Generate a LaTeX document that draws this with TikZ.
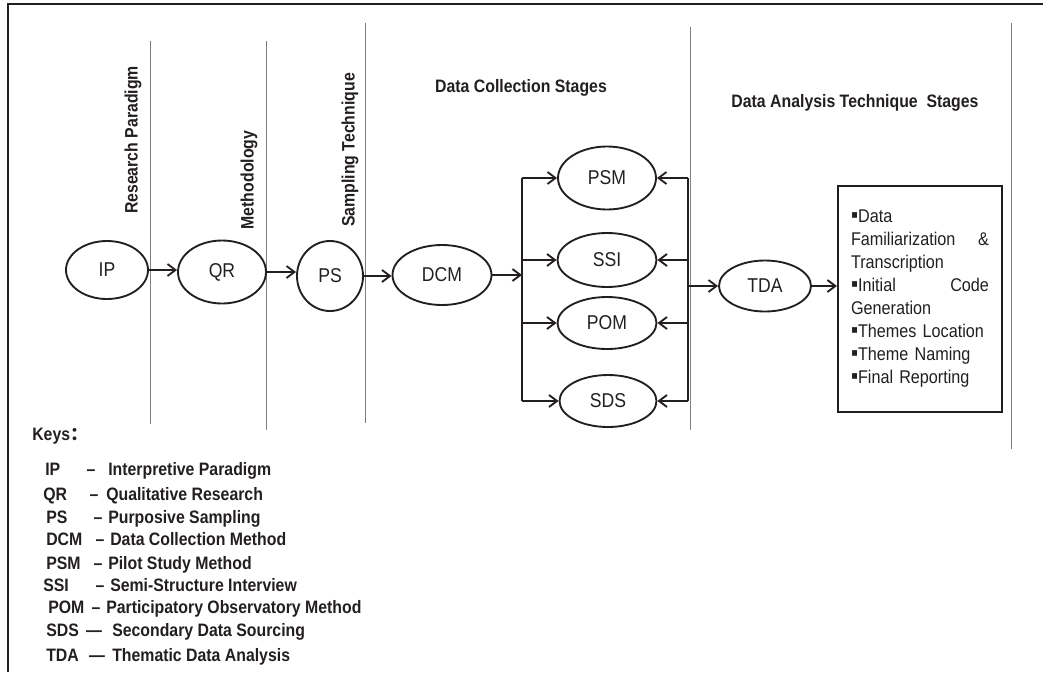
\documentclass[tikz,border=0pt]{standalone}
\usepackage{fontspec}
\setmainfont{Liberation Sans}[FakeStretch=0.88]
\newfontfamily\cjk{Noto Sans CJK SC}
\usetikzlibrary{arrows.meta,positioning,shapes.geometric}
\definecolor{ink}{HTML}{231F20}
\definecolor{rule}{HTML}{808080}

\tikzset{
  stage/.style={draw=ink,line width=1.4pt,ellipse,inner sep=0pt,text=ink,
    font=\fontsize{15}{18}\selectfont},
  arr/.style={draw=ink,line width=1.4pt,-{Straight Barb[length=6pt,width=9pt,line width=1.4pt]}},
  bus/.style={draw=ink,line width=1.4pt},
  sep/.style={draw=rule,line width=0.7pt},
  hdr/.style={text=ink,font=\fontsize{13.5}{16}\selectfont\bfseries,inner sep=0pt},
  keytxt/.style={text=ink,font=\fontsize{13.5}{16}\selectfont\bfseries,inner sep=0pt,anchor=base west},
}
\newcommand{\sq}{{\fontsize{17}{17}\selectfont▪}}

\begin{document}
\begin{tikzpicture}[x=0.75pt,y=-0.75pt]
  \useasboundingbox (0,0) rectangle (1043,672);
  % outer frame (only top and left show)
  \draw[ink,line width=2pt] (1043,4) -- (8,4) -- (8,672);

  % stage separators
  \draw[sep] (150,41) -- (150,424);
  \draw[sep] (266,41) -- (266,430);
  \draw[sep] (365,23) -- (365,423);
  \draw[sep] (690,27) -- (690,430);
  \draw[sep] (1011,23) -- (1011,449);

  % stage headings
  \node[hdr,rotate=90] at (133,140) {Research Paradigm};
  \node[hdr,rotate=90] at (249,180) {Methodology};
  \node[hdr,rotate=90] at (350,150) {Sampling Technique};
  \node[hdr] at (521,88) {Data Collection Stages};
  \node[hdr] at (855,103) {Data Analysis Technique\ \ Stages};

  % main flow
  \node[stage,minimum width=61.5pt,minimum height=43.5pt] (ip) at (107,270) {IP};
  \node[stage,minimum width=66pt,minimum height=47.25pt] (qr) at (222,272) {QR};
  \node[stage,minimum width=49.5pt,minimum height=52.5pt] (ps) at (330,276) {PS};
  \node[stage,minimum width=74.25pt,minimum height=45pt] (dcm) at (442,275) {DCM};
  \node[stage,minimum width=73.5pt,minimum height=47.25pt] (psm) at (607,178) {PSM};
  \node[stage,minimum width=74.25pt,minimum height=40.5pt] (ssi) at (607,260) {SSI};
  \node[stage,minimum width=74.25pt,minimum height=39pt] (pom) at (607,323) {POM};
  \node[stage,minimum width=72.75pt,minimum height=39pt] (sds) at (608,401) {SDS};
  \node[stage,minimum width=69pt,minimum height=38.25pt] (tda) at (765,286) {TDA};

  % analysis steps
  \node[draw=ink,line width=1.6pt,minimum width=123pt,minimum height=169.5pt,
    text width=103.5pt,align=left,inner sep=0pt,text=ink,
    font=\fontsize{13.8}{17.25}\selectfont] (steps) at (920,299)
    {\sq Data\\
     Familiarization\hfill\&\\
     Transcription\\
     \sq Initial\hfill Code\\
     Generation\\
     \sq Themes Location\\
     \sq Theme Naming\\
     \sq Final Reporting};

  \coordinate (bl) at (522,0);
  \coordinate (br) at (688,0);

  \draw[arr] (ip.east) -- (ip.east -| qr.west);
  \draw[arr] (qr.east) -- (qr.east -| ps.west);
  \draw[arr] (ps.east) -- (ps.east -| dcm.west);
  \draw[arr] (dcm.east) -- (dcm.east -| bl);
  \draw[bus] (psm.west -| bl) -- (sds.west -| bl);
  \draw[bus] (psm.east -| br) -- (sds.east -| br);
  \foreach \n in {psm,ssi,pom,sds}{
    \draw[arr] (\n.west -| bl) -- (\n.west);
    \draw[arr] (\n.east -| br) -- (\n.east);
  }
  \draw[arr] (tda.west -| br) -- (tda.west);
  \draw[arr] (tda.east) -- (tda.east -| steps.west);

  % keys
  \node[keytxt] (keys) at (32,440) {Keys{\cjk ：}};
  \foreach \xa/\ya/\ab/\xd/\dsh/\xs/\desc [count=\i] in {
      45/475/IP/91/–/108/Interpretive Paradigm,
      43/500/QR/94/–/106/Qualitative Research,
      46/523/PS/98/–/108/Purposive Sampling,
      46/545/DCM/100/–/110/Data Collection Method,
      46/569/PSM/98/–/108/Pilot Study Method,
      43/591/SSI/100/–/110/Semi-Structure Interview,
      48/613/POM/96/–/106/Participatory Observatory Method,
      46/636/SDS/94/—/112/Secondary Data Sourcing,
      46/661/TDA/97/—/112/Thematic Data Analysis}{
    \node[keytxt] (ab\i) at (\xa,\ya) {\ab};
    \node[keytxt,anchor=base] (d\i) at (\xd,\ya) {\dsh};
    \node[keytxt] (ds\i) at (\xs,\ya) {\desc};
  }
\end{tikzpicture}
\end{document}
